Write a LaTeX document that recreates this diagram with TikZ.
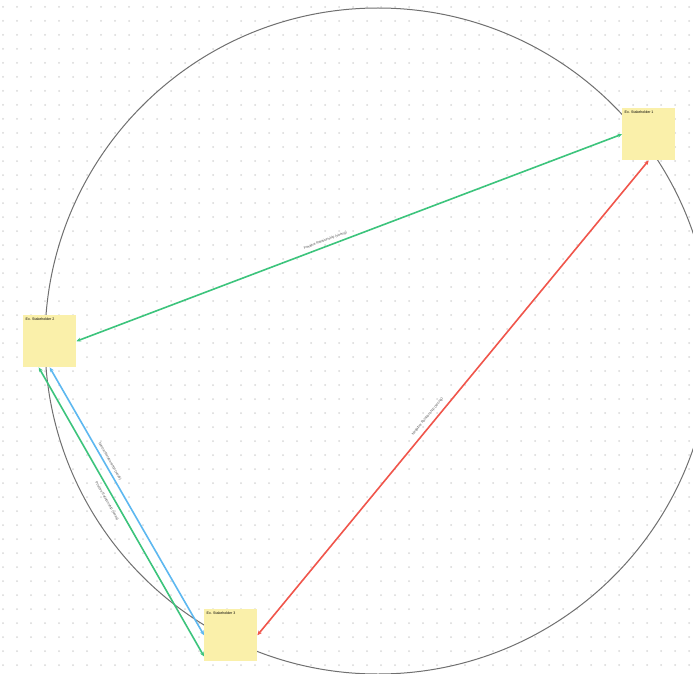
\documentclass[tikz,border=0pt]{standalone}
\usepackage{fontspec}
\setmainfont{Liberation Sans}
\usetikzlibrary{arrows.meta,calc}
\definecolor{notefill}{HTML}{FAF0AA}
\definecolor{gline}{HTML}{3CC47C}
\definecolor{rline}{HTML}{F0554B}
\definecolor{bline}{HTML}{5DB8F0}
\definecolor{ring}{HTML}{707070}
\definecolor{griddot}{HTML}{D8D8D8}
\definecolor{labgray}{HTML}{555555}
\tikzset{
  note/.style={rectangle, fill=notefill, draw=none, minimum width=53pt, minimum height=52pt, anchor=north west, inner sep=0pt},
  notetext/.style={font=\fontsize{3.6}{4}\selectfont, text=black, inner sep=2.5pt},
  rel/.style={line width=1.6pt, {Stealth[length=4.5pt,width=4pt]}-{Stealth[length=4.5pt,width=4pt]}},
  rellab/.style={font=\fontsize{3.5}{4}\selectfont, text=labgray, sloped, inner sep=0.3pt}
}
\begin{document}
\begin{tikzpicture}[x=1pt,y=-1pt]
\useasboundingbox (0,0) rectangle (693,674);
\fill[white] (0,0) rectangle (693,674);
\begin{scope}
\clip (0,0) rectangle (693,674);
\foreach \i in {0,...,49} {
  \foreach \j in {0,...,48} {
    \fill[griddot] (3+14*\i, 7+14*\j) circle (1pt);
  }
}
\draw[ring, line width=1pt] (378,341) circle (333pt);
\end{scope}
\node[note] (s1) at (622,108) {};
\node[notetext, anchor=north west] (t1) at (s1.north west) {Ex. Stakeholder 1};
\node[note] (s2) at (23,315) {};
\node[notetext, anchor=north west] (t2) at (s2.north west) {Ex. Stakeholder 2};
\node[note] (s3) at (204,609) {};
\node[notetext, anchor=north west] (t3) at (s3.north west) {Ex. Stakeholder 3};
\coordinate (g2a) at ($(s2.south)+(-11,0)$);
\coordinate (g2b) at ($(s3.south west)+(0,-5)$);
\draw[rel, gline] (s2.east) -- (s1.west)
  node[rellab, pos=0.46, above=3pt] (lg) {Positive Relationship (strong)};
\draw[rel, rline] (s3.east) -- (s1.south)
  node[rellab, pos=0.45, above=5pt] (lr) {Negative Relationship (strong)};
\draw[rel, bline] (s2.south) -- (s3.west)
  node[rellab, pos=0.36, above=2.5pt] (lb) {Neutral Relationship (weak)};
\draw[rel, gline] (g2a) -- (g2b)
  node[rellab, pos=0.45, below=4.5pt] (lg2) {Positive Relationship (weak)};
\end{tikzpicture}
\end{document}
